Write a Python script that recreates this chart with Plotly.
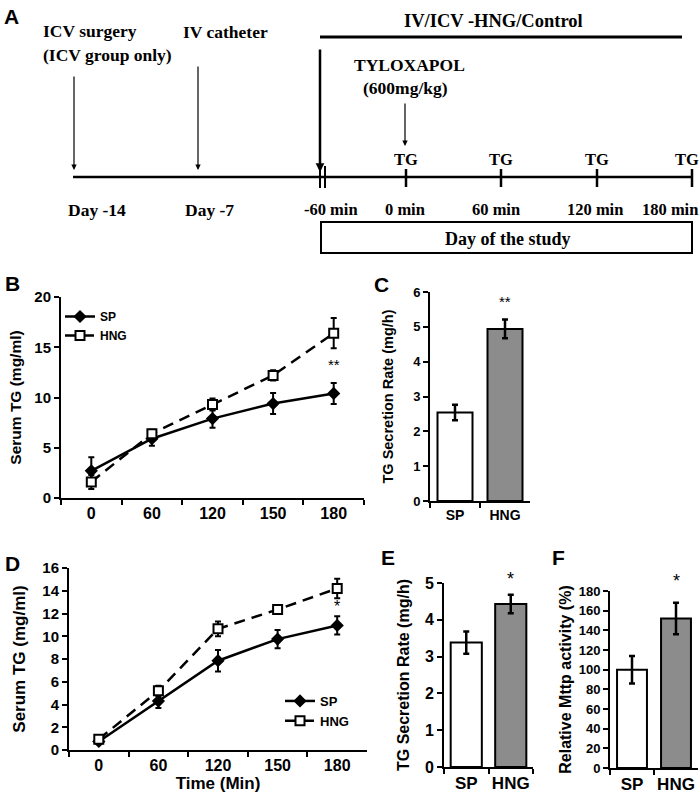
import plotly.graph_objects as go

W, H = 700, 800
SANS = "Liberation Sans, Arial, sans-serif"
SERIF = "Liberation Serif, Times New Roman, serif"

# panel B - serum TG time course
times = ["0", "60", "120", "150", "180"]
b_sp = [2.7, 5.9, 7.9, 9.4, 10.4]
b_sp_err = [1.35, 0.7, 0.9, 1.05, 1.05]
b_hng = [1.6, 6.4, 9.3, 12.2, 16.4]
b_hng_err = [0.7, 0.4, 0.6, 0.5, 1.5]

# panel C - secretion rate
groups = ["SP", "HNG"]
c_rate = [2.54, 4.94]
c_err = [0.22, 0.27]

# panel D - serum TG time course (second experiment)
d_sp = [0.75, 4.3, 7.85, 9.75, 10.95]
d_sp_err = [0.2, 0.6, 0.95, 0.8, 0.8]
d_hng = [0.95, 5.2, 10.65, 12.35, 14.2]
d_hng_err = [0.2, 0.45, 0.65, 0.4, 0.85]

# panel E / F
e_rate = [3.38, 4.43]
e_err = [0.3, 0.25]
f_mttp = [100, 152]
f_err = [14, 16]

bar_colors = ["white", "#8c8c8c"]

# panel A timeline labels
day_labels = ["Day -14", "Day -7"]
min_labels = ["-60 min", "0 min", "60 min", "120 min", "180 min"]


def px(x):
    return x / W


def py(y):
    return 1 - y / H


fig = go.Figure()


def line_trace(x, y, err, name, xa, ya, dash, symbol, leg):
    return go.Scatter(
        x=x, y=y, name=name, xaxis=xa, yaxis=ya, mode="lines+markers",
        line=dict(color="black", width=2.5, dash=dash),
        marker=dict(symbol=symbol, size=9 if symbol == "square" else 8,
                    color="white" if symbol == "square" else "black",
                    line=dict(color="black", width=2)),
        error_y=dict(type="data", array=err, color="black", thickness=2, width=3),
        legend=leg, showlegend=True)


def bar_trace(y, err, xa, ya, width):
    return go.Bar(
        x=groups, y=y, xaxis=xa, yaxis=ya, width=width, showlegend=False,
        marker=dict(color=bar_colors, line=dict(color="black", width=2)),
        error_y=dict(type="data", array=err, color="black", thickness=2.5, width=3))


DASH = "11px,7px"
fig.add_trace(line_trace(times, b_sp, b_sp_err, "SP", "x", "y", "solid", "diamond", "legend"))
fig.add_trace(line_trace(times, b_hng, b_hng_err, "HNG", "x", "y", DASH, "square", "legend"))
fig.add_trace(bar_trace(c_rate, c_err, "x2", "y2", 0.7))
fig.add_trace(line_trace(times, d_sp, d_sp_err, "SP", "x3", "y3", "solid", "diamond", "legend2"))
fig.add_trace(line_trace(times, d_hng, d_hng_err, "HNG", "x3", "y3", DASH, "square", "legend2"))
fig.add_trace(bar_trace(e_rate, e_err, "x4", "y4", 0.7))
fig.add_trace(bar_trace(f_mttp, f_err, "x5", "y5", 0.68))


def xax(dom, anchor, size, ncat):
    return dict(domain=dom, anchor=anchor, type="category", tickson="boundaries",
                range=[-0.5, ncat - 0.5], automargin=False, tickangle=0,
                showline=True, linecolor="black", linewidth=2, ticks="outside",
                ticklen=5, tickwidth=2, tickcolor="black", showgrid=False,
                tickfont=dict(family=SANS, size=size, color="black", weight="bold"))


def yax(dom, anchor, rng, dtick, size, title, tsize, standoff):
    return dict(domain=dom, anchor=anchor, range=rng, dtick=dtick, automargin=False,
                showline=True, linecolor="black", linewidth=2, ticks="outside",
                ticklen=5, tickwidth=2, tickcolor="black", showgrid=False, zeroline=False,
                tickfont=dict(family=SANS, size=size, color="black", weight="bold"),
                title=dict(text=title, standoff=standoff,
                           font=dict(family=SANS, size=tsize, color="black", weight="bold")))


fig.update_layout(
    xaxis=xax([px(61), px(364)], "y", 16, len(times)),
    yaxis=yax([py(498), py(297)], "x", [0, 20], 5, 15, "Serum TG (mg/ml)", 15.5, 9),
    xaxis2=xax([px(430), px(530)], "y2", 14, len(groups)),
    yaxis2=yax([py(501), py(292)], "x2", [0, 6], 1, 13, "TG Secretion Rate (mg/h)", 14.5, 16),
    xaxis3=xax([px(69), px(367)], "y3", 16, len(times)),
    yaxis3=yax([py(750), py(568)], "x3", [0, 16], 2, 15, "Serum TG (mg/ml)", 17, 12),
    xaxis4=xax([px(444), px(533)], "y4", 17, len(groups)),
    yaxis4=yax([py(767), py(583)], "x4", [0, 5], 1, 16, "TG Secretion Rate (mg/h)", 16, 11),
    xaxis5=xax([px(610), px(698)], "y5", 17, len(groups)),
    yaxis5=yax([py(768), py(591)], "x5", [0, 180], 20, 13, "Relative Mttp activity (%)", 16, 3),
)
fig.layout.xaxis3.title = dict(text="Time (Min)", standoff=2,
                               font=dict(family=SANS, size=17, color="black", weight="bold"))

fig.update_layout(
    width=W, height=H, margin=dict(l=0, r=0, t=0, b=0, autoexpand=False),
    paper_bgcolor="white", plot_bgcolor="white",
    font=dict(family=SANS, color="black"),
    legend=dict(x=px(60), y=py(302), xanchor="left", yanchor="top", bgcolor="rgba(0,0,0,0)",
                font=dict(family=SANS, size=12, weight="bold"), itemwidth=30, tracegroupgap=0),
    legend2=dict(x=px(280), y=py(686), xanchor="left", yanchor="top", bgcolor="rgba(0,0,0,0)",
                 font=dict(family=SANS, size=13, weight="bold"), itemwidth=30, tracegroupgap=0),
)

ann = []
shapes = []


def star(text, xa, ya, cat, y, size):
    ann.append(dict(x=cat, y=y, xref=xa, yref=ya, text=text, showarrow=False,
                    xanchor="center", yanchor="middle",
                    font=dict(family=SANS, size=size, color="black")))


# significance stars (category index for x, axis-domain fraction for y)
star("**", "x", "y domain", times.index("180"), 13.3 / 20, 15)
star("**", "x2", "y2 domain", groups.index("HNG"), 5.72 / 6, 15)
star("*", "x3", "y3 domain", times.index("180"), 12.6 / 16, 16)
star("*", "x4", "y4 domain", groups.index("HNG"), 5.1 / 5, 18)
star("*", "x5", "y5 domain", groups.index("HNG"), 190 / 180, 18)

# panel letters
for letter, lx, ly in [("A", 11, 17), ("B", 12, 283), ("C", 381, 285),
                       ("D", 12, 563), ("E", 388, 557), ("F", 558, 557)]:
    ann.append(dict(x=px(lx), y=py(ly), xref="paper", yref="paper", text=letter,
                    xanchor="center", yanchor="middle", showarrow=False,
                    font=dict(family=SANS, size=21, color="black", weight="bold")))


# panel A: study timeline
def txt(t, x, y, size=17.5):
    ann.append(dict(x=px(x), y=py(y), xref="paper", yref="paper", text=t, showarrow=False,
                    xanchor="center", yanchor="middle",
                    font=dict(family=SERIF, size=size, color="black", weight="bold")))


def arrow(x, y0, y1, width):
    ann.append(dict(x=px(x), y=py(y1), xref="paper", yref="paper", ax=0, ay=-(y1 - y0),
                    text="", showarrow=True, arrowhead=2, arrowsize=0.9 if width < 2 else 0.7,
                    arrowwidth=width, arrowcolor="black", standoff=0))


def seg(x0, y0, x1, y1, w):
    shapes.append(dict(type="line", xref="paper", yref="paper", x0=px(x0), y0=py(y0),
                       x1=px(x1), y1=py(y1), line=dict(color="black", width=w)))


txt("ICV surgery", 90, 31)
txt("(ICV group only)", 107, 55)
txt("IV catheter", 225, 32)
txt("IV/ICV -HNG/Control", 493, 21, 18.5)
txt("TYLOXAPOL", 409, 65)
txt("(600mg/kg)", 405, 88)
for x in [406, 501, 597, 687]:
    txt("TG", x, 159, 16.5)
for t, x in zip(day_labels, [97, 209]):
    txt(t, x, 210)
for t, x in zip(min_labels, [331, 405, 496, 595, 670]):
    txt(t, x, 210, 16.5)
txt("Day of the study", 508, 239, 18)

arrow(74, 75, 170, 1.2)
arrow(198, 65, 170, 1.2)
arrow(320, 48, 172, 2.5)
arrow(405, 102, 146, 1.2)

seg(73, 177, 692, 177, 2.5)
seg(320, 37, 682, 37, 3)
for x in [320, 325]:
    seg(x, 166, x, 188, 2)
for x in [406, 501, 597, 692]:
    seg(x, 169, x, 187, 2.5)
shapes.append(dict(type="rect", xref="paper", yref="paper", x0=px(321), y0=py(253),
                   x1=px(692), y1=py(222), line=dict(color="black", width=2)))

fig.update_layout(annotations=ann, shapes=shapes)

# drop the default page margin so the 700x800 figure fills the window exactly
fig.write_html("out.html", config={"displayModeBar": False},
               post_script="document.body.style.margin='0';")
